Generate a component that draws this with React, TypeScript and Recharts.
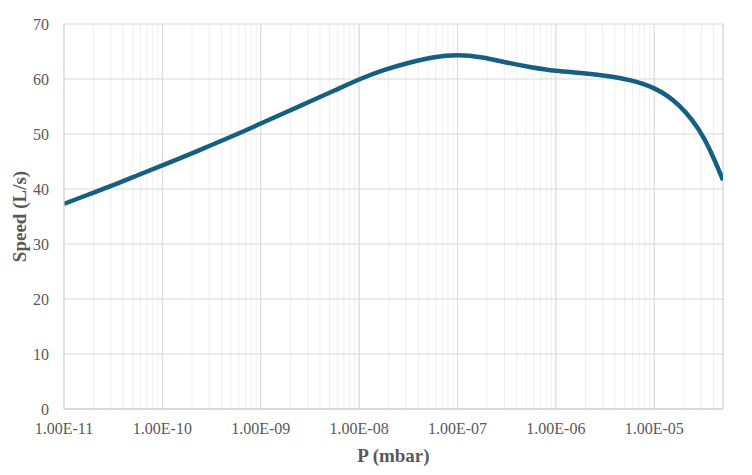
import {
  CartesianGrid,
  Label,
  Line,
  LineChart,
  ReferenceLine,
  XAxis,
  YAxis,
} from "recharts";

const pressure = [
  1e-11, 1.78e-11, 3.16e-11, 5.62e-11,
  1e-10, 1.78e-10, 3.16e-10, 5.62e-10,
  1e-9, 1.78e-9, 3.16e-9, 5.62e-9,
  1e-8, 1.78e-8, 3.16e-8, 5.62e-8,
  1e-7, 1.78e-7, 3.16e-7, 5.62e-7,
  1e-6, 1.78e-6, 3.16e-6, 5.62e-6,
  1e-5, 1.78e-5, 3.16e-5, 5e-5,
];
const speed = [
  37.3, 39.0, 40.7, 42.5,
  44.3, 46.1, 48.0, 49.9,
  51.9, 53.9, 55.9, 57.9,
  59.9, 61.6, 62.9, 63.9,
  64.3, 63.9, 63.0, 62.15,
  61.5, 61.1, 60.6, 59.8,
  58.3, 55.2, 49.4, 41.6,
];

const decadeTicks = [1e-11, 1e-10, 1e-9, 1e-8, 1e-7, 1e-6, 1e-5];
const yTicks = [0, 10, 20, 30, 40, 50, 60, 70];
const xMax = 5e-5;

// minor log gridlines (2..9 within each decade)
const minorTicks: number[] = [];
decadeTicks.forEach((d) => {
  for (let m = 2; m <= 9; m++) {
    const v = Number((d * m).toPrecision(3));
    if (v <= xMax) minorTicks.push(v);
  }
});
const allTicks = [...decadeTicks, ...minorTicks].sort((a, b) => a - b);

const data = pressure.map((p, i) => ({ p, speed: speed[i] }));

const fmt = (v: number) => {
  const [m, e] = v.toExponential(2).toUpperCase().split("E");
  const sign = e[0] === "-" ? "-" : "+";
  const digits = e.replace(/[+-]/, "").padStart(2, "0");
  return `${m}E${sign}${digits}`;
};

const FONT = "'Liberation Serif', 'Times New Roman', serif";
const TEXT = "#595959";

const XTick = (props: any) => {
  const { x, y, payload } = props;
  if (!decadeTicks.includes(payload.value)) return <g />;
  return (
    <text
      x={x}
      y={y}
      dy="0.71em"
      textAnchor="middle"
      fill={TEXT}
      fontSize={16}
      fontFamily={FONT}
    >
      {fmt(payload.value)}
    </text>
  );
};

export default function App() {
  return (
    <div style={{ position: "absolute", left: 0, top: 0, background: "#fff" }}>
      <LineChart
        width={752}
        height={475}
        data={data}
        margin={{ top: 24, right: 29, left: 0, bottom: 0 }}
      >
        <CartesianGrid stroke="#efefef" horizontal={false} />
        <CartesianGrid stroke="#d9d9d9" vertical={false} />
        {decadeTicks.map((d) => (
          <ReferenceLine key={d} x={d} stroke="#d9d9d9" />
        ))}
        <ReferenceLine x={xMax} stroke="#d0d0d0" />
        <XAxis
          dataKey="p"
          type="number"
          scale="log"
          domain={[1e-11, xMax]}
          allowDataOverflow
          ticks={allTicks}
          interval={0}
          tick={<XTick />}
          tickLine={false}
          tickSize={0}
          tickMargin={14}
          axisLine={{ stroke: "#c8c8c8" }}
          height={66}
        >
          <Label
            value="P (mbar)"
            position="center"
            dy={13}
            fill={TEXT}
            fontSize={19}
            fontWeight="bold"
            fontFamily={FONT}
          />
        </XAxis>
        <YAxis
          type="number"
          domain={[0, 70]}
          ticks={yTicks}
          width={64}
          tickLine={false}
          tickSize={0}
          tickMargin={15}
          axisLine={{ stroke: "#d9d9d9" }}
          tick={{ fill: TEXT, fontSize: 16, fontFamily: FONT }}
        >
          <Label
            value="Speed (L/s)"
            position="center"
            angle={-90}
            dx={-13}
            fill={TEXT}
            fontSize={19}
            fontWeight="bold"
            fontFamily={FONT}
          />
        </YAxis>
        <Line
          type="natural"
          dataKey="speed"
          stroke="#156082"
          strokeWidth={4.5}
          dot={false}
          isAnimationActive={false}
        />
      </LineChart>
    </div>
  );
}
